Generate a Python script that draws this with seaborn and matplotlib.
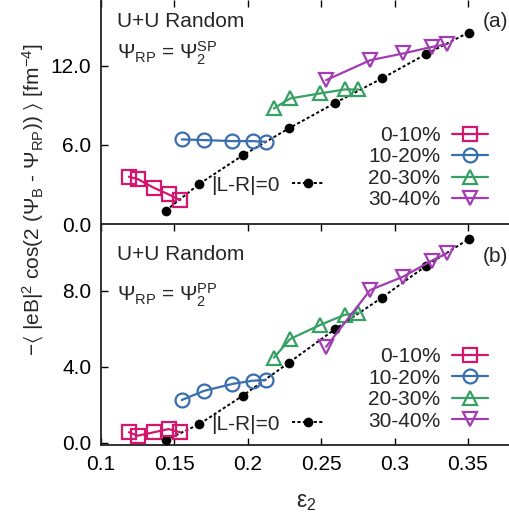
import matplotlib
matplotlib.use("Agg")
import matplotlib.pyplot as plt
import matplotlib.ticker as mticker
import numpy as np
import pandas as pd
import seaborn as sns

# ---------------- data ----------------
centralities = ["0-10%", "10-20%", "20-30%", "30-40%"]
eps_0_10 = [0.119, 0.125, 0.136, 0.146, 0.154]
eps_10_20 = [0.155, 0.170, 0.1895, 0.2034, 0.2123]
eps_20_30 = [0.2177, 0.2289, 0.2493, 0.2659, 0.2754]
eps_30_40 = [0.2534, 0.2834, 0.3057, 0.3255, 0.3357]
eps_lr = [0.1441, 0.1668, 0.1966, 0.2280, 0.2597, 0.2914, 0.3214, 0.3504]

# panel (a): Psi_RP = Psi_2^SP
sp_0_10 = [3.59, 3.41, 2.75, 2.25, 1.82]
sp_10_20 = [6.42, 6.37, 6.29, 6.29, 6.24]
sp_20_30 = [8.77, 9.53, 9.91, 10.21, 10.21]
sp_30_40 = [10.92, 12.43, 12.94, 13.44, 13.65]
sp_lr = [1.01, 3.03, 5.21, 7.26, 9.20, 11.05, 12.89, 14.53]

# panel (b): Psi_RP = Psi_2^PP
pp_0_10 = [0.55, 0.37, 0.55, 0.72, 0.55]
pp_10_20 = [2.25, 2.73, 3.10, 3.27, 3.31]
pp_20_30 = [4.48, 5.47, 6.21, 6.74, 6.86]
pp_30_40 = [5.06, 8.05, 8.75, 9.60, 9.99]
pp_lr = [0.14, 0.97, 2.48, 4.22, 6.00, 7.65, 9.32, 10.73]

xticks = [0.1, 0.15, 0.2, 0.25, 0.3, 0.35]
xticklabels = ["0.1", "0.15", "0.2", "0.25", "0.3", "0.35"]
yticks_a = [0.0, 6.0, 12.0]
yticks_b = [0.0, 4.0, 8.0]

colors = ["#d3176f", "#3a6eaf", "#37a064", "#a23cb2"]
markers = ["s", "o", "^", "v"]

# ---------------- style ----------------
sns.set_style("ticks")
plt.rcParams["font.family"] = ["Liberation Sans", "DejaVu Sans"]
plt.rcParams["mathtext.fontset"] = "custom"
plt.rcParams["mathtext.rm"] = "Liberation Sans"
plt.rcParams["mathtext.it"] = "Liberation Sans:italic"
plt.rcParams["mathtext.bf"] = "Liberation Sans:bold"
plt.rcParams["mathtext.default"] = "regular"

FS = 15

fig = plt.figure(figsize=(5.09, 5.22), dpi=100)
W, H = 509.0, 522.0
left = 101 / W
width = 411 / W
ax_a = fig.add_axes([left, 1 - 224 / H, width, 224 / H])
ax_b = fig.add_axes([left, 1 - 445 / H, width, 221 / H])


def draw(ax, eps_sets, val_sets, lr_vals, ylim, yticks, tag, psi_label, anchor_main, anchor_lr, txt_y, psi_y, tag_y):
    sns.lineplot(x=eps_lr, y=lr_vals, ax=ax, color="black", lw=1.4,
                 linestyle=(0, (1.6, 1.2)), marker="o", markersize=7,
                 markeredgewidth=0, sort=False, label="|L-R|=0", zorder=3)
    for i, (ex, vy) in enumerate(zip(eps_sets, val_sets)):
        sns.lineplot(x=ex, y=vy, ax=ax, color=colors[i], lw=1.6,
                     marker=markers[i], markersize=10, markerfacecolor="none",
                     markeredgecolor=colors[i], markeredgewidth=1.6,
                     sort=False, label=centralities[i], zorder=4)
    lines = ax.get_lines()
    lg = ax.get_legend()
    if lg is not None:
        lg.remove()
    leg1 = ax.legend(handles=lines[1:5], labels=centralities, loc="center right",
                     bbox_to_anchor=anchor_main, frameon=False, markerfirst=False,
                     fontsize=FS, handlelength=1.75, handletextpad=0.55,
                     labelspacing=0.12, borderpad=0, borderaxespad=0)
    ax.add_artist(leg1)
    ax.legend(handles=lines[0:1], labels=["|L-R|=0"], loc="center right",
              bbox_to_anchor=anchor_lr, frameon=False, markerfirst=False,
              fontsize=FS, handlelength=1.5, handletextpad=0.6,
              borderpad=0, borderaxespad=0)
    ax.set_xlim(0.1, 0.38)
    ax.set_ylim(*ylim)
    ax.set_yticks(yticks)
    ax.yaxis.set_major_formatter(mticker.FormatStrFormatter("%.1f"))
    ax.set_xticks(xticks)
    ax.set_xticklabels(xticklabels)
    ax.tick_params(direction="in", length=5, width=1, labelsize=FS, pad=7,
                   colors="black")
    ax.text(0.039, txt_y, "U+U Random", transform=ax.transAxes, fontsize=FS,
            ha="left", va="baseline")
    ax.text(0.039, psi_y, psi_label, transform=ax.transAxes, fontsize=FS,
            ha="left", va="baseline")
    ax.text(0.928, tag_y, tag, transform=ax.transAxes, fontsize=FS,
            ha="left", va="baseline")
    for s in ["left", "bottom", "top", "right"]:
        ax.spines[s].set_linewidth(1.3)
        ax.spines[s].set_color("#222222")
    ax.set_xlabel("")
    ax.set_ylabel("")


draw(ax_a, [eps_0_10, eps_10_20, eps_20_30, eps_30_40],
     [sp_0_10, sp_10_20, sp_20_30, sp_30_40], sp_lr, (0, 17.0), yticks_a, "(a)",
     r"$\Psi_{RP}$ = $\Psi_2^{SP}$", (0.9423, 0.252), (0.5405, 0.174),
     0.879, 0.735, 0.879)
draw(ax_b, [eps_0_10, eps_10_20, eps_20_30, eps_30_40],
     [pp_0_10, pp_10_20, pp_20_30, pp_30_40], pp_lr, (-0.12, 11.53), yticks_b, "(b)",
     r"$\Psi_{RP}$ = $\Psi_2^{PP}$", (0.9423, 0.2534), (0.5405, 0.095),
     0.837, 0.648, 0.828)

ax_a.spines["top"].set_visible(False)
ax_a.spines["right"].set_visible(False)
ax_a.spines["bottom"].set_visible(False)
ax_a.tick_params(top=True, bottom=False, labelbottom=False, right=False)
ax_b.spines["right"].set_visible(False)
ax_b.tick_params(top=True, bottom=True, right=False)

ax_b.set_xlabel("ε$_2$", fontsize=16.5, labelpad=12)
fig.text(33 / W, 1 - 200 / H,
         r"$-\langle\ |eB|^2\ \cos(2\ (\Psi_B$ - $\Psi_{RP}))\ \rangle\ [fm^{-4}]$",
         rotation=90, ha="center", va="center", fontsize=FS)

fig.savefig("out.png", dpi=100)
